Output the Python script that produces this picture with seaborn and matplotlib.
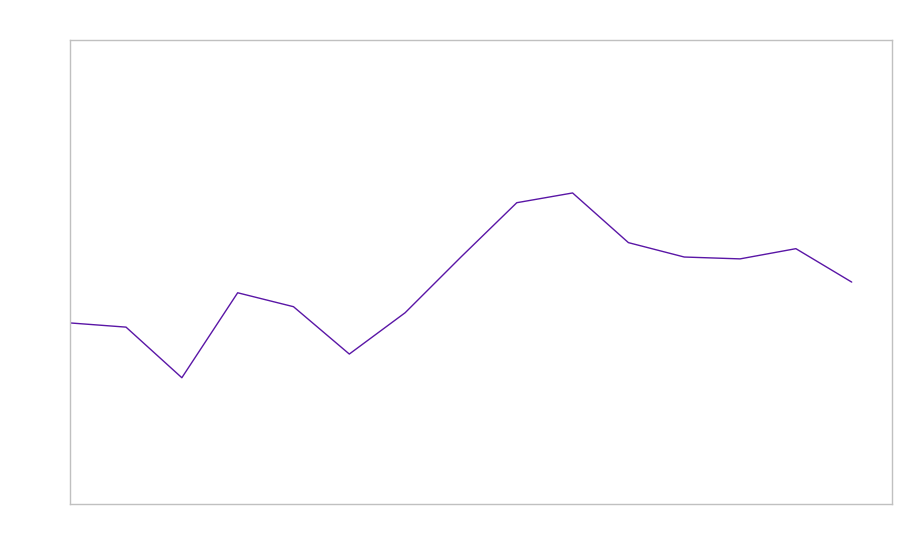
import matplotlib
matplotlib.use('Agg')
import matplotlib.pyplot as plt
import seaborn as sns
import pandas as pd

# Valores (sem rótulos visíveis)
periodo = list(range(15))
valores = [39.0, 38.1, 27.2, 45.5, 42.5, 32.3, 41.2, 53.2, 64.9, 67.0,
           56.3, 53.2, 52.8, 55.0, 47.8]

dados = pd.DataFrame({'periodo': periodo, 'valor': valores})

sns.set_style('white')
fig, ax = plt.subplots(figsize=(9, 5.6), dpi=100)
fig.subplots_adjust(left=0.078, right=0.991, top=0.929, bottom=0.1)

sns.lineplot(data=dados, x='periodo', y='valor', color='#5a16a6', linewidth=1, ax=ax)

ax.set_xlim(0, 14.72)
ax.set_ylim(0, 100)
ax.set_xticks([])
ax.set_yticks([])
ax.set_xlabel('')
ax.set_ylabel('')
for s in ax.spines.values():
    s.set_color('#c0c0c0')
    s.set_linewidth(1)

plt.savefig('out.png')
